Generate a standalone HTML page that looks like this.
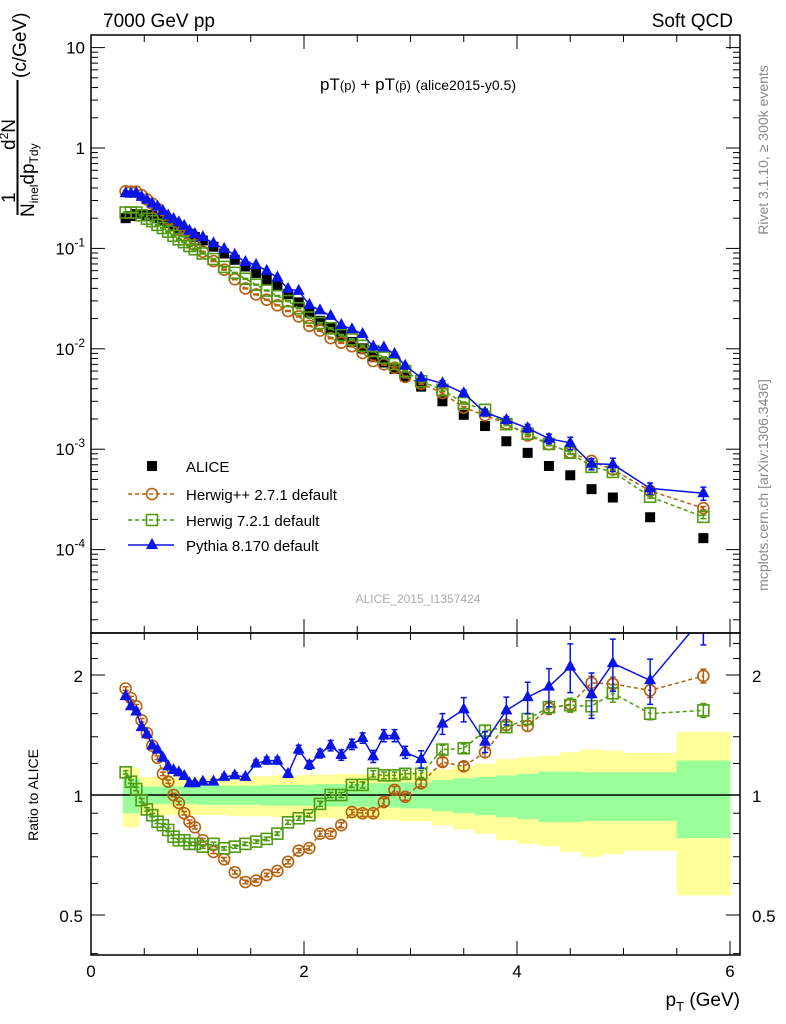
<!DOCTYPE html>
<html><head><meta charset="utf-8"><style>
body{margin:0;background:#fff}
svg{display:block;font-family:"Liberation Sans",sans-serif}
</style></head><body>
<svg id="c" width="786" height="1024" viewBox="0 0 786 1024" xmlns="http://www.w3.org/2000/svg">
<text x="103" y="27" font-size="19">7000 GeV pp</text>
<text x="733" y="27" font-size="19" text-anchor="end">Soft QCD</text>
<text x="418" y="90" font-size="17" text-anchor="middle">pT<tspan font-size="13">(p)</tspan> + pT<tspan font-size="13">(p̄)</tspan> <tspan font-size="14">(alice2015-y0.5)</tspan></text>
<text x="418" y="603" font-size="12" fill="#aaa" text-anchor="middle">ALICE_2015_I1357424</text>
<text transform="translate(768,150) rotate(-90)" font-size="14" fill="#888" text-anchor="middle">Rivet 3.1.10, ≥ 300k events</text>
<text transform="translate(768,485) rotate(-90)" font-size="14" fill="#888" text-anchor="middle">mcplots.cern.ch [arXiv:1306.3436]</text>
<g>
<text transform="translate(15,203) rotate(-90)" font-size="19">1</text>
<text transform="translate(15,150) rotate(-90)" font-size="19">d<tspan font-size="12" dy="-7">2</tspan><tspan dy="7">N</tspan></text>
<line x1="17.5" y1="80" x2="17.5" y2="215" stroke="#000" stroke-width="2"/>
<text transform="translate(34,217) rotate(-90)" font-size="19">N<tspan font-size="12" dy="4">inel</tspan><tspan dy="-4">dp</tspan><tspan font-size="12" dy="4">Tdy</tspan></text>
<text transform="translate(26,78) rotate(-90)" font-size="19">(c/GeV)</text>
</g>
<text transform="translate(38,795) rotate(-90)" font-size="14" text-anchor="middle">Ratio to ALICE</text>
<text x="740" y="1006" font-size="19" text-anchor="end">p<tspan font-size="13" dy="5">T</tspan><tspan dy="-5"> (GeV)</tspan></text>
</svg>
<script>
const pt=[0.325,0.375,0.425,0.475,0.525,0.575,0.625,0.675,0.725,0.775,0.825,0.875,0.925,0.975,1.05,1.15,1.25,1.35,1.45,1.55,1.65,1.75,1.85,1.95,2.05,2.15,2.25,2.35,2.45,2.55,2.65,2.75,2.85,2.95,3.1,3.3,3.5,3.7,3.9,4.1,4.3,4.5,4.7,4.9,5.25,5.75];
const binLo=[0.3,0.35,0.4,0.45,0.5,0.55,0.6,0.65,0.7,0.75,0.8,0.85,0.9,0.95,1.0,1.1,1.2,1.3,1.4,1.5,1.6,1.7,1.8,1.9,2.0,2.1,2.2,2.3,2.4,2.5,2.6,2.7,2.8,2.9,3.0,3.2,3.4,3.6,3.8,4.0,4.2,4.4,4.6,4.8,5.0,5.5];
const binHi=[0.35,0.4,0.45,0.5,0.55,0.6,0.65,0.7,0.75,0.8,0.85,0.9,0.95,1.0,1.1,1.2,1.3,1.4,1.5,1.6,1.7,1.8,1.9,2.0,2.1,2.2,2.3,2.4,2.5,2.6,2.7,2.8,2.9,3.0,3.2,3.4,3.6,3.8,4.0,4.2,4.4,4.6,4.8,5.0,5.5,6.0];
const alice=[0.2,0.21,0.22,0.22,0.215,0.21,0.2,0.19,0.18,0.17,0.16,0.15,0.14,0.13,0.12,0.104,0.089,0.077,0.066,0.057,0.049,0.042,0.035,0.029,0.023,0.019,0.016,0.0137,0.0117,0.0101,0.0084,0.0073,0.0063,0.0053,0.0042,0.003,0.0022,0.0017,0.0012,0.00092,0.00068,0.00055,0.0004,0.00033,0.00021,0.00013];
const bandTot=[0.17,0.17,0.17,0.11,0.11,0.11,0.11,0.11,0.11,0.11,0.11,0.11,0.11,0.11,0.11,0.11,0.11,0.115,0.115,0.115,0.115,0.12,0.12,0.12,0.125,0.125,0.125,0.13,0.13,0.13,0.13,0.135,0.135,0.14,0.14,0.16,0.18,0.2,0.23,0.245,0.255,0.28,0.3,0.29,0.275,0.44];
const bandStat=[0.1,0.1,0.1,0.05,0.05,0.05,0.05,0.05,0.05,0.05,0.05,0.05,0.05,0.05,0.055,0.055,0.055,0.055,0.055,0.055,0.06,0.06,0.06,0.06,0.06,0.065,0.065,0.065,0.065,0.065,0.07,0.07,0.07,0.075,0.075,0.09,0.1,0.11,0.12,0.13,0.145,0.145,0.14,0.14,0.14,0.22];
const rHpp=[1.85,1.75,1.67,1.54,1.43,1.33,1.24,1.13,1.08,1.0,0.955,0.9,0.857,0.83,0.77,0.72,0.69,0.64,0.605,0.61,0.63,0.645,0.68,0.725,0.736,0.8,0.8,0.84,0.906,0.9,0.9,0.96,1.03,0.99,1.07,1.21,1.18,1.28,1.5,1.49,1.65,1.69,1.91,1.9,1.83,1.99];
const rH7=[1.14,1.08,1.035,0.97,0.92,0.89,0.857,0.84,0.817,0.786,0.77,0.77,0.754,0.754,0.742,0.754,0.735,0.742,0.754,0.764,0.776,0.8,0.854,0.874,0.89,0.95,1.0,1.0,1.06,1.06,1.13,1.12,1.12,1.13,1.13,1.3,1.31,1.45,1.48,1.55,1.66,1.68,1.67,1.8,1.6,1.63];
const rPy=[1.77,1.67,1.62,1.48,1.42,1.33,1.3,1.24,1.18,1.155,1.14,1.116,1.07,1.07,1.08,1.08,1.11,1.12,1.11,1.2,1.22,1.22,1.13,1.3,1.19,1.27,1.33,1.26,1.34,1.39,1.25,1.41,1.41,1.28,1.23,1.51,1.64,1.36,1.63,1.76,1.87,2.1,1.79,2.14,1.94,2.8];
const eHpp=[0.01,0.01,0.01,0.01,0.01,0.01,0.01,0.01,0.01,0.01,0.01,0.01,0.01,0.01,0.01,0.01,0.01,0.01,0.01,0.01,0.01,0.01,0.012,0.012,0.012,0.015,0.015,0.015,0.015,0.018,0.018,0.02,0.02,0.02,0.02,0.025,0.025,0.03,0.03,0.03,0.035,0.035,0.04,0.04,0.04,0.04];
const eH7=[0.01,0.01,0.01,0.01,0.01,0.01,0.01,0.01,0.01,0.01,0.01,0.01,0.01,0.01,0.01,0.01,0.01,0.01,0.01,0.01,0.01,0.01,0.012,0.012,0.012,0.015,0.015,0.015,0.015,0.018,0.018,0.02,0.02,0.02,0.02,0.025,0.025,0.03,0.03,0.03,0.035,0.04,0.05,0.05,0.035,0.04];
const ePy=[0.01,0.01,0.01,0.01,0.01,0.01,0.01,0.01,0.01,0.01,0.01,0.01,0.012,0.012,0.012,0.015,0.015,0.015,0.015,0.02,0.02,0.02,0.02,0.025,0.025,0.025,0.03,0.03,0.03,0.03,0.035,0.035,0.035,0.035,0.05,0.06,0.07,0.06,0.08,0.09,0.11,0.14,0.13,0.15,0.13,0.15];
const mainTicks=[10,1,0.1,0.01,0.001,0.0001];
const mainTickLabels=["10","1","10|-1","10|-2","10|-3","10|-4"];
const ratioTicks=[0.5,1,2];
const ratioTickLabels=["0.5","1","2"];
const xTicks=[0,2,4,6];
const xTickLabels=["0","2","4","6"];

const NS="http://www.w3.org/2000/svg",svg=document.getElementById('c');
const L=91,R=740,T=35,M=633,B=955;
const X=p=>L+p*106.5;
const Ym=v=>148-100.4*Math.log10(v);
const Yr=r=>795-398.6*Math.log10(r);
function mk(tag,attrs,parent){const e=document.createElementNS(NS,tag);for(const k in attrs)e.setAttribute(k,attrs[k]);(parent||svg).appendChild(e);return e;}
const defs=mk('defs',{});
const c1=mk('clipPath',{id:'cm'},defs);mk('rect',{x:L,y:T,width:R-L,height:M-T},c1);
const c2=mk('clipPath',{id:'cr'},defs);mk('rect',{x:L,y:M,width:R-L,height:B-M},c2);

const gb=mk('g',{'clip-path':'url(#cr)'});


for(let i=0;i<pt.length;i++){
  const x0=X(binLo[i]),x1=X(binHi[i]);
  const y=mk('rect',{x:x0,y:Yr(1+bandTot[i]),width:x1-x0+0.5,height:Yr(1-bandTot[i])-Yr(1+bandTot[i]),fill:'#ffff99'},gb);
  
  
}
for(let i=0;i<pt.length;i++){
  const x0=X(binLo[i]),x1=X(binHi[i]);
  const g=mk('rect',{x:x0,y:Yr(1+bandStat[i]),width:x1-x0+0.5,height:Yr(1-bandStat[i])-Yr(1+bandStat[i]),fill:'#99ff99'},gb);
  
  
}
const one=mk('line',{x1:L,x2:R,y1:Yr(1),y2:Yr(1),stroke:'#000','stroke-width':1.5});



function marker(kind,x,y,col,parent){
  let e;
  if(kind==='circ')e=mk('circle',{cx:x,cy:y,r:5.5,fill:'none',stroke:col,'stroke-width':1.6},parent);
  else if(kind==='sq')e=mk('rect',{x:x-5.5,y:y-5.5,width:11,height:11,fill:'none',stroke:col,'stroke-width':1.6},parent);
  else if(kind==='tri')e=mk('path',{d:`M${x},${y-7}L${x+6},${y+4}L${x-6},${y+4}Z`,fill:col},parent);
  else e=mk('rect',{x:x-5,y:y-5,width:10,height:10,fill:col},parent);
  return e;
}
const models=[
 {name:'herwigpp',r:rHpp,e:eHpp,col:'#b5600f',kind:'circ',dash:'4,3'},
 {name:'herwig7',r:rH7,e:eH7,col:'#4f9a10',kind:'sq',dash:'4,3'},
 {name:'pythia',r:rPy,e:ePy,col:'#0a14e6',kind:'tri',dash:''}
];
function drawSeries(m,panel){
  const g=mk('g',{'clip-path':panel==='main'?'url(#cm)':'url(#cr)'});
  
  
  const vals=pt.map((p,i)=>panel==='main'?alice[i]*m.r[i]:m.r[i]);
  const Y=panel==='main'?Ym:Yr;
  const d=pt.map((p,i)=>(i?'L':'M')+X(p).toFixed(1)+','+Y(vals[i]).toFixed(1)).join('');
  const ln=mk('path',{d:d,fill:'none',stroke:m.col,'stroke-width':1.5,'stroke-dasharray':m.dash},g);
  
  
  pt.forEach((p,i)=>{
    const x=X(p),v=vals[i],ee=v*m.e[i];
    const eb=mk('path',{d:`M${x},${Y(v+ee)}V${Y(v-ee)}M${x-3},${Y(v+ee)}H${x+3}M${x-3},${Y(v-ee)}H${x+3}`,stroke:m.col,'stroke-width':1.5,fill:'none'},g);
    
    
    const mm=marker(m.kind,x,Y(v),m.col,g);
    
    
  });
}
const ga=mk('g',{'clip-path':'url(#cm)'});


pt.forEach((p,i)=>{const s=marker('data',X(p),Ym(alice[i]),'#000',ga);
 
 });
models.forEach(m=>{drawSeries(m,'main');drawSeries(m,'ratio');});

const f1=mk('rect',{x:L,y:T,width:R-L,height:M-T,fill:'none',stroke:'#000','stroke-width':1.5});


const f2=mk('rect',{x:L,y:M,width:R-L,height:B-M,fill:'none',stroke:'#000','stroke-width':1.5});



const ax=mk('g',{stroke:'#000','stroke-width':1});


for(let e=-5;e<=1;e++)for(let k=1;k<10;k++){
  const v=k*Math.pow(10,e),y=Ym(v);if(y<T||y>M)continue;
  const len=k===1?14:7;
  mk('line',{x1:L,x2:L+len,y1:y,y2:y},ax);mk('line',{x1:R,x2:R-len,y1:y,y2:y},ax);
}
mainTicks.forEach((v,i)=>{
  const parts=mainTickLabels[i].split('|');
  const t=mk('text',{x:L-6,y:Ym(v)+6,'font-size':17,'text-anchor':'end'});
  
  
  if(parts.length===1)t.textContent=parts[0];
  else{t.textContent=parts[0];const s=mk('tspan',{'font-size':12,dy:-8},t);s.textContent=parts[1];}
});
[0.4,0.5,0.6,0.7,0.8,0.9,1,1.2,1.4,1.6,1.8,2,2.2,2.4].forEach(v=>{
  const y=Yr(v);if(y<M||y>B)return;
  const len=(v===0.5||v===1||v===2)?14:7;
  mk('line',{x1:L,x2:L+len,y1:y,y2:y},ax);mk('line',{x1:R,x2:R-len,y1:y,y2:y},ax);
});
ratioTicks.forEach((v,i)=>{
  ['left','right'].forEach(side=>{
    const t=mk('text',{x:side==='left'?L-8:R+12,y:Yr(v)+7,'font-size':17,'text-anchor':side==='left'?'end':'start'});
    
    
    t.textContent=ratioTickLabels[i];
  });
});
for(let p=0;p<=6.01;p+=0.5){
  const x=X(p),len=Math.abs(p%2)<0.01?14:7;
  mk('line',{x1:x,x2:x,y1:B,y2:B-len},ax);
  mk('line',{x1:x,x2:x,y1:M,y2:M-len},ax);
  mk('line',{x1:x,x2:x,y1:T,y2:T+len},ax);mk('line',{x1:x,x2:x,y1:M,y2:M+len},ax);
}
xTicks.forEach((v,i)=>{
  const t=mk('text',{x:X(v),y:977,'font-size':17,'text-anchor':'middle'});
  
  
  t.textContent=xTickLabels[i];
});
const lg=mk('g',{});


const legY=[466,494,520,545];
const legTxt=['ALICE','Herwig++ 2.7.1 default','Herwig 7.2.1 default','Pythia 8.170 default'];
legTxt.forEach((s,i)=>{
  const y=legY[i];
  const e=mk('g',{},lg);
  
  
  if(i===0)marker('data',152,y,'#000',e);
  else{const m=models[i-1];mk('line',{x1:128,x2:174,y1:y,y2:y,stroke:m.col,'stroke-width':1.5,'stroke-dasharray':m.dash},e);marker(m.kind,152,y,m.col,e);}
  const t=mk('text',{x:186,y:y+6,'font-size':15},e);t.textContent=s;
});
</script>
</body></html>
